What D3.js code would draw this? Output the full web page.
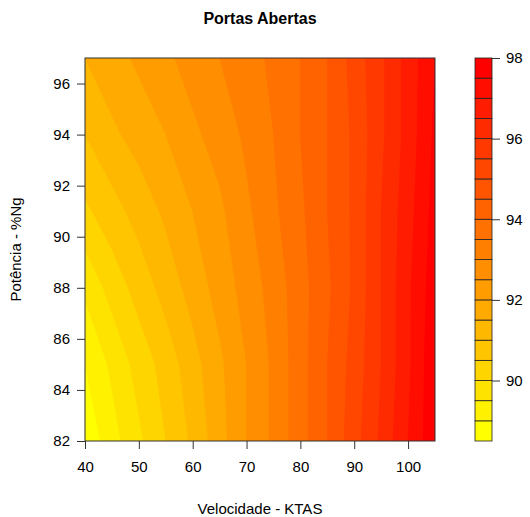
<!DOCTYPE html>
<html>
<head>
<meta charset="utf-8">
<script src="https://cdn.jsdelivr.net/npm/d3@7"></script>
<style>
  body { margin: 0; background: #fff; }
  text { font-family: "Liberation Sans", Arial, sans-serif; fill: #000; }
</style>
</head>
<body>
<script>
// Data
const velocidade = [40, 45, 50, 55, 60, 65, 70, 75, 80, 85, 90, 95, 100, 105];
const potencia = [82, 85, 88, 91, 94, 97];
const z82 = [88.6, 89.3, 89.9, 90.5, 91.1, 91.8, 92.5, 93.1, 93.8, 94.5, 95.3, 96.1, 97.0, 97.9];
const z85 = [89.0, 89.6, 90.2, 90.7, 91.3, 91.9, 92.5, 93.1, 93.8, 94.5, 95.2, 96.0, 96.9, 97.9];
const z88 = [89.6, 90.2, 90.7, 91.2, 91.7, 92.2, 92.7, 93.2, 93.8, 94.4, 95.1, 96.0, 96.9, 97.8];
const z91 = [90.4, 90.8, 91.2, 91.6, 92.0, 92.4, 92.9, 93.4, 93.9, 94.5, 95.1, 96.0, 96.8, 97.7];
const z94 = [91.0, 91.4, 91.7, 92.0, 92.4, 92.7, 93.1, 93.5, 94.0, 94.5, 95.1, 95.9, 96.7, 97.6];
const z97 = [91.5, 91.8, 92.1, 92.4, 92.7, 93.0, 93.3, 93.6, 94.0, 94.5, 95.2, 95.9, 96.7, 97.5];
const zRows = [z82, z85, z88, z91, z94, z97];
const levels = d3.range(88.5, 98.01, 0.5);
const xTicks = [40, 50, 60, 70, 80, 90, 100];
const yTicks = [82, 84, 86, 88, 90, 92, 94, 96];
const legendTicks = [90, 92, 94, 96, 98];

const width = 530, height = 517;
const plot = { left: 85, right: 435, top: 58, bottom: 441 };
const key = { left: 475, right: 492 };

const svg = d3.select("body").append("svg")
  .attr("width", width).attr("height", height);

const x = d3.scaleLinear().domain([40, 105]).range([plot.left, plot.right]);
const y = d3.scaleLinear().domain([82, 97]).range([plot.bottom, plot.top]);

const color = d3.scaleLinear().domain([0, levels.length - 2])
  .range(["#ffff00", "#ff0000"]).interpolate(d3.interpolateRgb);

// grid values, row 0 = top (97) for d3.contours
const nx = velocidade.length, ny = potencia.length;
const values = [];
for (let j = ny - 1; j >= 0; j--) values.push(...zRows[j]);

const dxStep = velocidade[1] - velocidade[0];
const dyStep = potencia[1] - potencia[0];
const gx = c => x(velocidade[0] + (c - 0.5) * dxStep);
const gy = r => y(potencia[ny - 1] - (r - 0.5) * dyStep);
const proj = d3.geoTransform({
  point(px, py) { this.stream.point(gx(px), gy(py)); }
});
const path = d3.geoPath(proj);

svg.append("clipPath").attr("id", "plotClip")
  .append("rect")
  .attr("x", plot.left).attr("y", plot.top)
  .attr("width", plot.right - plot.left).attr("height", plot.bottom - plot.top);

const contours = d3.contours().size([nx, ny]).thresholds(levels.slice(0, -1))(values);

svg.append("g").attr("clip-path", "url(#plotClip)")
  .selectAll("path").data(contours).join("path")
  .attr("d", path)
  .attr("fill", (d, i) => color(i))
  .attr("stroke", (d, i) => color(i))
  .attr("stroke-width", 0.5);

svg.append("rect")
  .attr("x", plot.left).attr("y", plot.top)
  .attr("width", plot.right - plot.left).attr("height", plot.bottom - plot.top)
  .attr("fill", "none").attr("stroke", "#333").attr("stroke-width", 1);

// axes
const xAxis = svg.append("g")
  .attr("transform", `translate(0,${plot.bottom})`)
  .call(d3.axisBottom(x).tickValues(xTicks).tickSize(8).tickPadding(12));
const yAxis = svg.append("g")
  .attr("transform", `translate(${plot.left},0)`)
  .call(d3.axisLeft(y).tickValues(yTicks).tickSize(8).tickPadding(7));
[xAxis, yAxis].forEach(a => {
  a.select(".domain").remove();
  a.selectAll("line").attr("stroke", "#333");
  a.selectAll("text").style("font-size", "15px").attr("fill", "#000");
});

// legend
const ky = d3.scaleLinear().domain([levels[0], levels[levels.length - 1]])
  .range([plot.bottom, plot.top]);
svg.append("g").selectAll("rect")
  .data(levels.slice(0, -1)).join("rect")
  .attr("x", key.left).attr("width", key.right - key.left)
  .attr("y", d => ky(d + 0.5)).attr("height", d => ky(d) - ky(d + 0.5))
  .attr("fill", (d, i) => color(i))
  .attr("stroke", "#222").attr("stroke-width", 0.8);
const kAxis = svg.append("g")
  .attr("transform", `translate(${key.right},0)`)
  .call(d3.axisRight(ky).tickValues(legendTicks).tickSize(8).tickPadding(6));
kAxis.select(".domain").remove();
kAxis.selectAll("line").attr("stroke", "#333");
kAxis.selectAll("text").style("font-size", "15px").attr("fill", "#000");

// titles
svg.append("text")
  .attr("x", 260).attr("y", 24)
  .attr("text-anchor", "middle")
  .style("font-size", "16px").style("font-weight", "bold")
  .text("Portas Abertas");

svg.append("text")
  .attr("x", 260).attr("y", 514)
  .attr("text-anchor", "middle")
  .style("font-size", "15px")
  .text("Velocidade - KTAS");

svg.append("text")
  .attr("transform", `translate(21,${(plot.top + plot.bottom) / 2}) rotate(-90)`)
  .attr("text-anchor", "middle")
  .style("font-size", "15px")
  .text("Potência - %Ng");
</script>
</body>
</html>
